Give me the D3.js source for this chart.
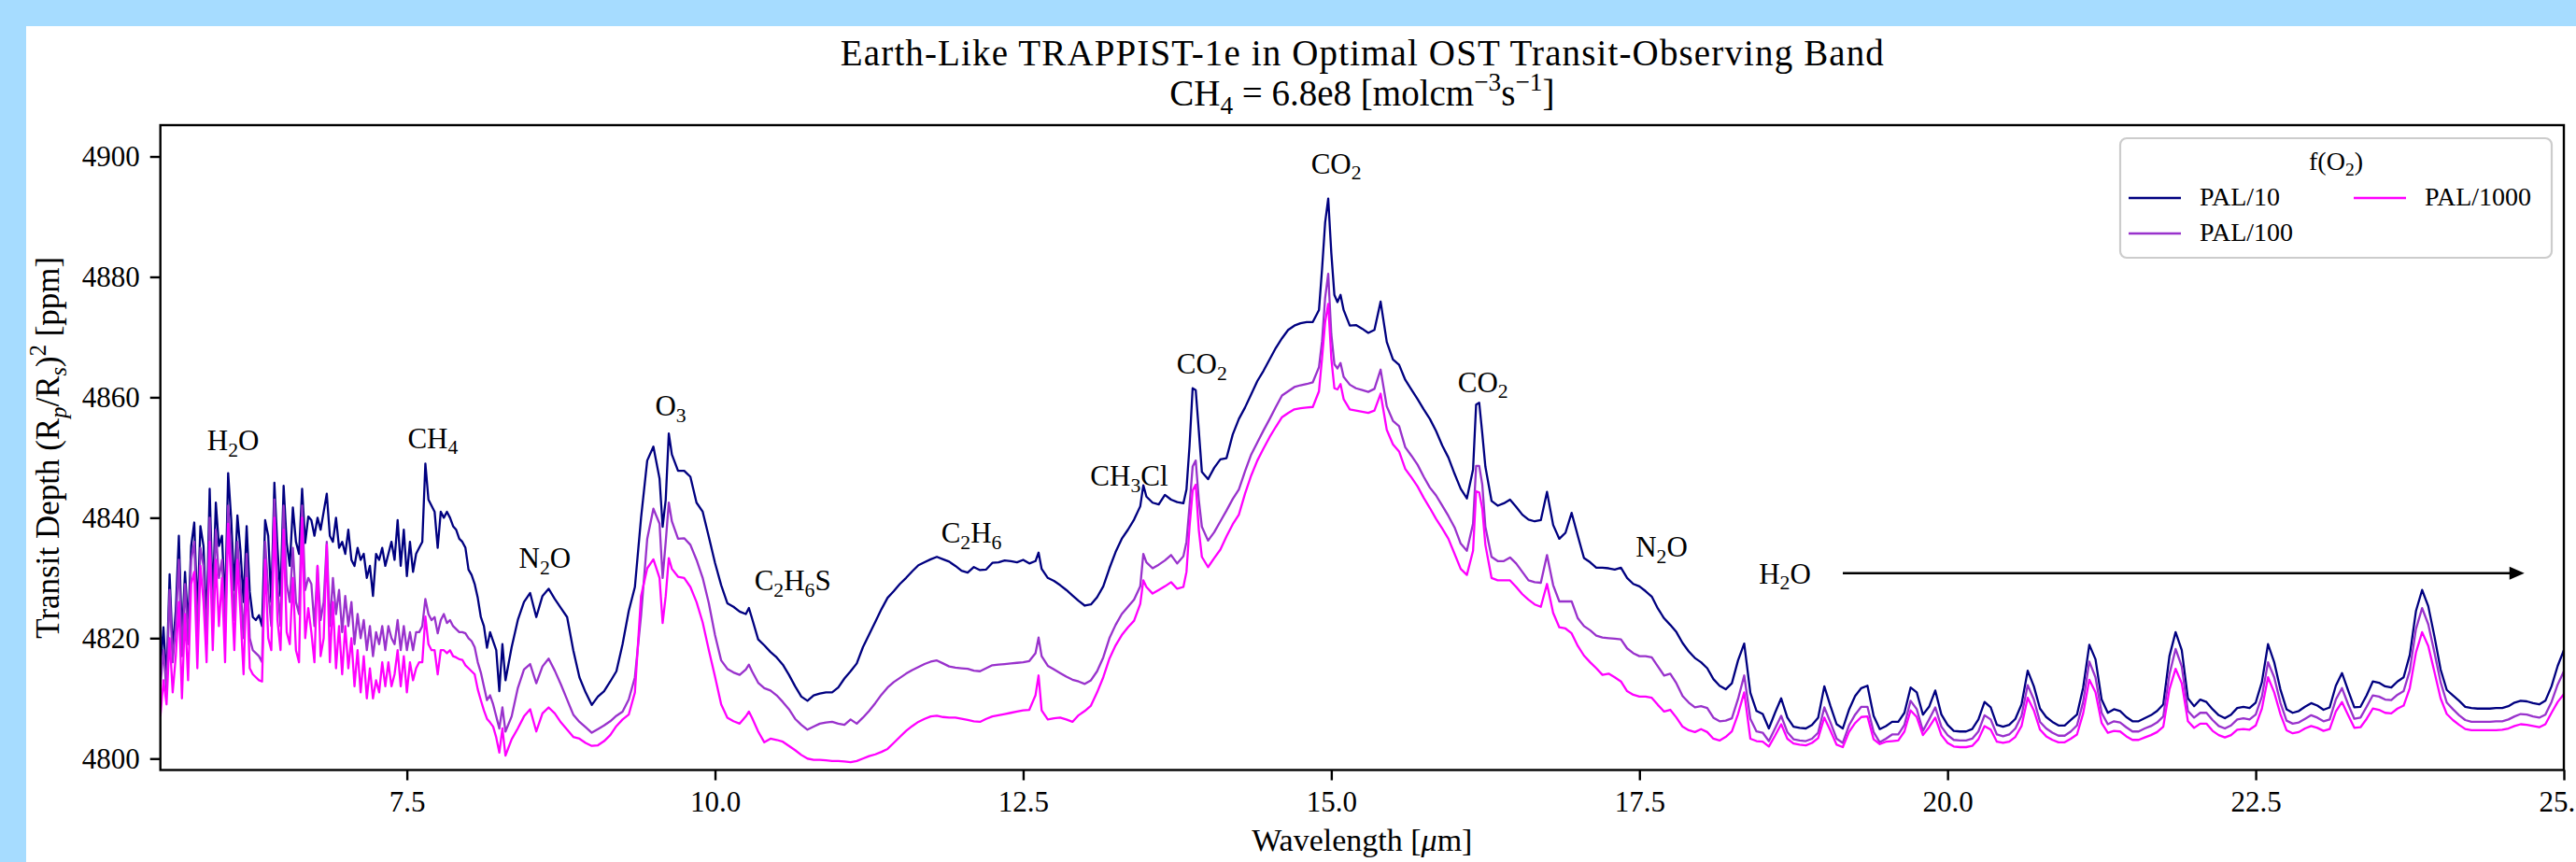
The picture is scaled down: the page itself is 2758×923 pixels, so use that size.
<html lang="en">
<head>
  <meta charset="UTF-8"/>
  <title>Earth-Like TRAPPIST-1e in Optimal OST Transit-Observing Band</title>
  <script src="https://d3js.org/d3.v7.min.js"></script>
</head>
<body>
  <svg id="chart"></svg>
</body>
<style>
body {
  margin: 0;
  background: #a6dcff;
  overflow: hidden;
}

svg {
  display: block;
}

text {
  font-family: 'Liberation Serif', 'Times New Roman', serif;
  fill: #000;
}

.series {
  fill: none;
  stroke-width: 2.3;
  stroke-linejoin: round;
}

.axis path {
  display: none;
}

.axis line {
  stroke: #000;
  stroke-width: 2.4;
}
</style>

<script>
// wavelength grid (um)
const wavelength = [
  5.5, 5.525, 5.55, 5.575, 5.6, 5.625, 5.65, 5.675, 5.7, 5.725,
  5.75, 5.775, 5.8, 5.825, 5.85, 5.875, 5.9, 5.925, 5.95, 5.975,
  6, 6.025, 6.05, 6.075, 6.1, 6.125, 6.15, 6.175, 6.2, 6.225,
  6.25, 6.275, 6.3, 6.325, 6.35, 6.375, 6.4, 6.425, 6.45, 6.475,
  6.5, 6.525, 6.55, 6.575, 6.6, 6.625, 6.65, 6.675, 6.7, 6.725,
  6.75, 6.775, 6.8, 6.825, 6.85, 6.875, 6.9, 6.925, 6.95, 6.975,
  7, 7.025, 7.05, 7.075, 7.1, 7.125, 7.15, 7.175, 7.2, 7.225,
  7.25, 7.275, 7.3, 7.325, 7.35, 7.375, 7.4, 7.425, 7.45, 7.475,
  7.5, 7.525, 7.55, 7.575, 7.6, 7.625, 7.65, 7.675, 7.7, 7.725,
  7.75, 7.775, 7.8, 7.825, 7.85, 7.875, 7.9, 7.925, 7.95, 7.975,
  8, 8.025, 8.05, 8.075, 8.1, 8.125, 8.15, 8.175, 8.2, 8.225,
  8.25, 8.275, 8.3,
  8.35, 8.4, 8.45, 8.5, 8.55, 8.6, 8.65, 8.7, 8.75, 8.8,
  8.85, 8.9, 8.95, 9, 9.05, 9.1, 9.15, 9.2, 9.25, 9.3,
  9.35, 9.4, 9.45, 9.5, 9.55, 9.575, 9.6, 9.625, 9.65, 9.7,
  9.75, 9.8, 9.85, 9.9, 9.95, 10, 10.05, 10.1, 10.15, 10.2,
  10.25, 10.275, 10.3, 10.35, 10.4, 10.45, 10.5, 10.55, 10.6, 10.65,
  10.7, 10.75, 10.8, 10.85, 10.9, 10.95, 11, 11.05, 11.1, 11.15,
  11.2, 11.25, 11.3, 11.35, 11.4, 11.45, 11.5, 11.55, 11.6, 11.65,
  11.7, 11.75, 11.8, 11.85, 11.9, 11.95, 12, 12.05, 12.1, 12.15,
  12.2, 12.25, 12.3, 12.35, 12.4, 12.45, 12.5, 12.55, 12.6, 12.625,
  12.65, 12.7, 12.75, 12.8, 12.85, 12.9, 12.95, 13, 13.05, 13.1,
  13.15, 13.2, 13.25, 13.3, 13.35, 13.4, 13.45, 13.475,
  13.5, 13.55, 13.6, 13.65, 13.7, 13.75, 13.8, 13.825, 13.85, 13.875,
  13.9, 13.925, 13.95, 14, 14.05, 14.1, 14.15, 14.2, 14.25, 14.3,
  14.35, 14.4, 14.45, 14.5, 14.55, 14.6, 14.65, 14.7, 14.75, 14.8,
  14.85, 14.9, 14.925, 14.95, 14.975, 15, 15.025, 15.05, 15.075, 15.1,
  15.15, 15.2, 15.25, 15.3, 15.35, 15.4, 15.45, 15.5, 15.55, 15.6,
  15.65, 15.7, 15.75, 15.8, 15.85, 15.9, 15.95, 16, 16.05, 16.1,
  16.15, 16.175, 16.2, 16.225, 16.25, 16.3, 16.35, 16.4, 16.45, 16.5,
  16.55, 16.6, 16.65, 16.7, 16.75, 16.8, 16.85, 16.9, 16.95, 17,
  17.05, 17.1, 17.15, 17.2, 17.25, 17.3, 17.35, 17.4, 17.45, 17.5,
  17.55, 17.6, 17.65, 17.7, 17.75, 17.8, 17.85, 17.9, 17.95, 18,
  18.05, 18.1, 18.15, 18.2, 18.25, 18.3, 18.35, 18.4, 18.45, 18.5,
  18.55, 18.6, 18.65, 18.7, 18.75, 18.8, 18.85, 18.9, 18.95, 19,
  19.05, 19.1, 19.15, 19.2, 19.25, 19.3, 19.35, 19.4, 19.45, 19.5,
  19.55, 19.6, 19.65, 19.7, 19.75, 19.8, 19.85, 19.9, 19.95, 20,
  20.05, 20.1, 20.15, 20.2, 20.25, 20.3, 20.35, 20.4, 20.45, 20.5,
  20.55, 20.6, 20.65, 20.7, 20.75, 20.8, 20.85, 20.9, 20.95, 21,
  21.05, 21.1, 21.15, 21.2, 21.25, 21.3, 21.35, 21.4, 21.45, 21.5,
  21.55, 21.6, 21.65, 21.7, 21.75, 21.8, 21.85, 21.9, 21.95, 22,
  22.05, 22.1, 22.15, 22.2, 22.25, 22.3, 22.35, 22.4, 22.45, 22.5,
  22.55, 22.6, 22.65, 22.7, 22.75, 22.8, 22.85, 22.9, 22.95, 23,
  23.05, 23.1, 23.15, 23.2, 23.25, 23.3, 23.35, 23.4, 23.45, 23.5,
  23.55, 23.6, 23.65, 23.7, 23.75, 23.8, 23.85, 23.9, 23.95, 24,
  24.05, 24.1, 24.15, 24.2, 24.25, 24.3, 24.35, 24.4, 24.45, 24.5,
  24.55, 24.6, 24.65, 24.7, 24.75, 24.8, 24.85, 24.9, 24.95, 25
];

// transit depth (ppm), f(O2) = PAL/10
const pal10 = [
  4815, 4821.8, 4813, 4830.6, 4818, 4824.6, 4837, 4820, 4831, 4822,
  4835.3, 4839.2, 4824, 4838.6, 4835.3, 4822, 4844.8, 4826, 4842.5, 4835.3,
  4837, 4825, 4847.4, 4839.6, 4828, 4840.4, 4834.5, 4826, 4838.6, 4827.7,
  4823.5, 4823, 4823.8, 4822, 4839.6, 4837, 4826, 4845.8, 4835, 4827,
  4845.3, 4835.8, 4832, 4841.7, 4836, 4834, 4844.8, 4835.8, 4840.2, 4839.6,
  4837, 4840, 4838, 4841, 4844, 4837, 4836, 4840, 4835, 4836,
  4834, 4838, 4833, 4832, 4835, 4833, 4834, 4830, 4832, 4827,
  4834, 4833, 4835, 4832, 4834, 4836, 4833, 4839.6, 4832, 4838,
  4830.3, 4836, 4831, 4834, 4835, 4836, 4849, 4843, 4842, 4841,
  4835, 4841, 4840, 4841, 4840, 4838.6, 4838, 4836.5, 4836, 4835,
  4831.4, 4830.5, 4829, 4826.7, 4823.5, 4822, 4818.4, 4821, 4819.5, 4818,
  4811.2, 4819, 4813,
  4818.5, 4823, 4826, 4827.5, 4823.5, 4827, 4828.2, 4826.5, 4825, 4823.5,
  4818, 4813.5, 4811, 4808.9, 4810.3, 4811.2, 4812.8, 4814.5, 4819, 4824.5,
  4828.5, 4840, 4849.5, 4851.8, 4846.5, 4838.5, 4843, 4854, 4850.5, 4847.8,
  4847.8, 4846.8, 4842.5, 4841, 4836.8, 4832.5, 4828.8, 4825.8, 4825.2, 4824.4,
  4824, 4825, 4823.3, 4819.8, 4818.8, 4817.7, 4816.8, 4815.6, 4813.9, 4812,
  4810.3, 4809.6, 4810.5, 4810.8, 4811, 4811, 4811.8, 4813.3, 4814.5, 4815.8,
  4818.5, 4820.6, 4822.7, 4824.8, 4826.7, 4827.8, 4829, 4830, 4831.1, 4832.1,
  4832.6, 4833.1, 4833.5, 4833.1, 4832.7, 4832, 4831.2, 4830.9, 4831.8, 4831.3,
  4831.4, 4832.5, 4832.6, 4832.9, 4832.8, 4832.6, 4833, 4832.4, 4832.8, 4834.2,
  4831.5, 4830, 4829.5, 4828.8, 4828, 4827.1, 4826.2, 4825.4, 4825.6, 4826.8,
  4828.6, 4831.6, 4834.3, 4836.5, 4838, 4839.7, 4841.9, 4845.4,
  4843.5, 4842.5, 4842.2, 4843.8, 4843, 4842.6, 4842.4, 4844.7, 4852, 4861.5,
  4861.2, 4854.5, 4847.6, 4846.4, 4848.3, 4849.7, 4849.9, 4853.8, 4856.4, 4858.3,
  4860.5, 4862.7, 4864.4, 4866.3, 4868.2, 4869.8, 4871.2, 4871.9, 4872.3, 4872.5,
  4872.5, 4874.5, 4881.3, 4889, 4893, 4884, 4877, 4875.8, 4877, 4874.5,
  4871.9, 4872, 4871.4, 4870.7, 4871.2, 4875.9, 4869.2, 4866.3, 4865.4, 4862.9,
  4861.3, 4859.7, 4858, 4856.4, 4854.4, 4852, 4850, 4847.3, 4844.8, 4843.2,
  4848, 4858.8, 4859.1, 4854, 4848.5, 4842.8, 4842, 4842.4, 4843, 4841.8,
  4840.5, 4839.7, 4839.4, 4839.6, 4844.3, 4838.8, 4836.5, 4837.5, 4840.8, 4837,
  4833.3, 4832.6, 4831.7, 4831.7, 4831.6, 4831.4, 4831.7, 4830, 4829, 4828.6,
  4827.8, 4826.9, 4824.9, 4823.3, 4822.2, 4821, 4819.2, 4817.8, 4816.7, 4816,
  4815, 4813.2, 4812.1, 4811.5, 4812.5, 4816.3, 4819.1, 4810.9, 4807.9, 4807.4,
  4805, 4807.6, 4810, 4806.8, 4805.3, 4805.1, 4805, 4805.6, 4806.8, 4812,
  4808.7, 4805.7, 4805, 4808.1, 4810.4, 4811.7, 4812.1, 4807.1, 4804.9, 4805.4,
  4806.1, 4806.1, 4807.6, 4811.8, 4811, 4807.3, 4808.6, 4811.3, 4807.3, 4805.6,
  4804.6, 4804.5, 4804.5, 4804.9, 4806.5, 4809.4, 4808.5, 4805.6, 4805.3, 4805.6,
  4806.6, 4809, 4814.6, 4812, 4808.3, 4806.9, 4806.1, 4805.5, 4805.5, 4806.4,
  4807.3, 4811.8, 4818.9, 4816.5, 4809.8, 4807.6, 4808.2, 4807.9, 4806.9, 4806.2,
  4806.2, 4806.7, 4807.2, 4807.9, 4809, 4817, 4821, 4818, 4810, 4808.7,
  4809.8, 4809.4, 4808.2, 4807.2, 4806.7, 4807.3, 4808.4, 4808.6, 4808.4, 4809.3,
  4812.7, 4819, 4816, 4811.5, 4808.2, 4807.6, 4807.9, 4808.6, 4809.2, 4808.8,
  4808.1, 4808.5, 4812.1, 4814.2, 4811.3, 4808.5, 4808.6, 4810.5, 4812.8, 4812.6,
  4812, 4811.8, 4812.8, 4813.5, 4817.2, 4824.5, 4828, 4825.3, 4820.3, 4814.8,
  4811.4, 4810.5, 4809.6, 4808.6, 4808.4, 4808.3, 4808.3, 4808.3, 4808.4, 4808.4,
  4808.7, 4809.3, 4809.6, 4809.5, 4809.2, 4809, 4809.6, 4812, 4815.4, 4818
];

// f(O2) = PAL/100
const pal100 = [
  4812, 4818, 4811, 4828, 4816, 4822, 4833, 4817, 4829, 4819,
  4833, 4836, 4820, 4835, 4832, 4819, 4840, 4822, 4838, 4830,
  4833, 4821, 4842, 4834, 4823, 4836, 4829, 4820, 4834, 4820,
  4818, 4817.5, 4817, 4816, 4836, 4828, 4822, 4843, 4829, 4822,
  4842, 4829, 4826, 4835, 4826, 4824, 4842, 4828, 4830, 4829,
  4822, 4832, 4823, 4826, 4836, 4822, 4830, 4824, 4828, 4821,
  4827, 4822, 4826, 4819, 4824, 4820, 4823, 4818, 4822, 4817,
  4821, 4819, 4822, 4818, 4822, 4820, 4819, 4823, 4818, 4822,
  4818, 4821, 4818, 4821, 4821, 4822, 4826.5, 4824, 4823, 4823.5,
  4820.8, 4823, 4824, 4822.5, 4823, 4822, 4821.5, 4821, 4821, 4820.8,
  4820, 4819.5, 4818.5, 4816, 4814.3, 4812, 4809.7, 4810.5, 4809, 4807,
  4805, 4808.5, 4804.5,
  4807, 4811.7, 4814.8, 4815.7, 4812.5, 4815.3, 4816.6, 4814.6, 4812.3, 4809.8,
  4807.3, 4806.1, 4805.2, 4804.3, 4804.9, 4805.5, 4806.2, 4807.1, 4807.8, 4809.8,
  4813.5, 4823.8, 4836.5, 4841.5, 4839, 4830, 4836, 4842.5, 4839.4, 4836.5,
  4836.6, 4835.5, 4833, 4830, 4825.8, 4820.5, 4816.3, 4814.9, 4814.3, 4813.9,
  4814.8, 4815.6, 4814.5, 4812.6, 4811.7, 4811.3, 4810.5, 4809.4, 4808.2, 4806.6,
  4805.6, 4804.8, 4805.3, 4805.8, 4806, 4806.1, 4805.8, 4805.6, 4806.5, 4805.8,
  4806.8, 4807.9, 4809.2, 4810.6, 4811.8, 4812.7, 4813.4, 4814.1, 4814.7, 4815.2,
  4815.7, 4816.1, 4816.3, 4815.8, 4815.3, 4815.1, 4815, 4814.9, 4814.6, 4814.5,
  4815, 4815.5, 4815.6, 4815.7, 4815.8, 4815.9, 4816, 4816.2, 4817.5, 4820.1,
  4817, 4815.4, 4814.8, 4814.2, 4813.6, 4813.1, 4812.8, 4812.4, 4813, 4814.5,
  4816.8, 4820, 4822.2, 4824, 4825.2, 4826.4, 4828.6, 4834,
  4832.6, 4831.6, 4832.2, 4832.9, 4833.8, 4832.4, 4833.6, 4836, 4842, 4848.5,
  4849.5, 4843, 4838.5, 4836.2, 4837.6, 4839.4, 4841.2, 4843.1, 4844.7, 4847.7,
  4850.5, 4852.5, 4854.5, 4856.4, 4858.4, 4860.3, 4861, 4861.7, 4862, 4862.2,
  4862.5, 4865, 4869.3, 4876.5, 4880.5, 4870.5, 4865.5, 4864.8, 4865.7, 4863.4,
  4862.1, 4861.5, 4861.2, 4860.9, 4861.4, 4864.6, 4858.5, 4856.1, 4855.2, 4851.7,
  4850.3, 4848.8, 4846.8, 4845, 4843.7, 4842, 4840.3, 4838.4, 4835.7, 4834.5,
  4839, 4848.6, 4848.6, 4845.5, 4838.5, 4833.5, 4832.8, 4832.8, 4833.4, 4832.4,
  4831, 4829.6, 4829.3, 4829.2, 4833.8, 4828.8, 4826.1, 4826.1, 4826.1, 4823.3,
  4822, 4821.3, 4820.4, 4820.1, 4820, 4819.9, 4819.8, 4818.3, 4817.5, 4817,
  4817, 4816.8, 4815.3, 4813.8, 4814.1, 4812.5, 4810.4, 4809.3, 4808.5, 4808.7,
  4808.4, 4806.8, 4806.2, 4806.3, 4806.7, 4809.9, 4813.8, 4806.6, 4804.5, 4804.3,
  4802.9, 4805, 4807.1, 4804.4, 4803.2, 4803, 4802.9, 4803.3, 4804.3, 4808.5,
  4806, 4803.3, 4802.6, 4805.5, 4807.3, 4808.6, 4808.6, 4804.4, 4802.7, 4803.3,
  4804, 4804, 4805.6, 4809.6, 4808.2, 4804.6, 4806.5, 4808.5, 4805.3, 4803.9,
  4803.1, 4803, 4803, 4803.3, 4804.5, 4807.2, 4806.5, 4804, 4803.7, 4804,
  4805, 4807.1, 4812.2, 4809.8, 4806.1, 4805, 4804.3, 4803.8, 4803.8, 4804.5,
  4805.5, 4809.4, 4816.1, 4813.5, 4807.6, 4805.7, 4806.2, 4806, 4805.2, 4804.5,
  4804.5, 4805, 4805.4, 4806, 4807, 4814, 4818.2, 4815.3, 4807.9, 4806.8,
  4807.6, 4807.6, 4806.4, 4805.4, 4805, 4805.5, 4806.5, 4806.7, 4806.5, 4807.3,
  4810.3, 4816, 4813.5, 4809.3, 4806.3, 4805.8, 4806, 4806.6, 4807.2, 4806.8,
  4806.2, 4806.5, 4809.8, 4811.7, 4809, 4806.6, 4806.8, 4808.6, 4810.5, 4810.3,
  4809.8, 4809.7, 4810.6, 4811.2, 4814.6, 4821.5, 4825, 4822.3, 4817.6, 4812.7,
  4809.3, 4808.2, 4807.2, 4806.4, 4806.1, 4806.1, 4806.1, 4806.1, 4806.2, 4806.2,
  4806.5, 4807, 4807.4, 4807.3, 4807, 4806.8, 4807.3, 4809.4, 4812.3, 4814.5
];

// f(O2) = PAL/1000
const pal1000 = [
  4807, 4813, 4809, 4820, 4811, 4817, 4826, 4810, 4824, 4813,
  4829, 4831, 4815, 4832, 4826, 4816, 4836, 4818, 4833, 4822,
  4830, 4816, 4839, 4829, 4818, 4833, 4824, 4814, 4830, 4815,
  4814, 4813.5, 4813, 4812.8, 4833, 4820, 4818, 4840, 4823, 4818,
  4838, 4821, 4819, 4830, 4818, 4816, 4840, 4820, 4825, 4821,
  4816, 4832, 4817, 4820, 4835.5, 4816, 4826, 4815, 4822, 4814,
  4822, 4815, 4820, 4812, 4818, 4811, 4817, 4810, 4815, 4810,
  4813, 4811, 4816, 4812, 4816, 4812, 4814, 4818, 4812, 4817,
  4811, 4816, 4813, 4815, 4816, 4816, 4823.6, 4819, 4818, 4818,
  4814, 4818, 4818, 4817.5, 4818, 4817, 4816.8, 4816.5, 4816.4, 4815.5,
  4815, 4814.5, 4814, 4811.5, 4809.7, 4808, 4806.6, 4806, 4805.3, 4803.5,
  4801, 4805, 4800.5,
  4803.2, 4805, 4807, 4808.2, 4804.5, 4807.5, 4808.5, 4807.5, 4806, 4804.8,
  4803.6, 4803.3, 4802.6, 4802.1, 4802.2, 4802.9, 4803.9, 4805.4, 4806.5, 4807.3,
  4811, 4827, 4831.6, 4833.1, 4830, 4822.5, 4827, 4833.3, 4831.5, 4830.2,
  4830, 4828.5, 4826, 4822.6, 4818, 4813.6, 4809, 4806.8, 4806.2, 4805.8,
  4807, 4807.8, 4806.8, 4804.5, 4802.7, 4803.3, 4803.1, 4802.8, 4802.1, 4801.4,
  4800.6, 4800, 4799.8, 4799.8, 4799.7, 4799.6, 4799.6, 4799.5, 4799.4, 4799.6,
  4800, 4800.4, 4800.7, 4801.1, 4801.6, 4802.6, 4803.6, 4804.6, 4805.4, 4806.1,
  4806.6, 4807, 4807.1, 4806.9, 4806.8, 4806.8, 4806.6, 4806.4, 4806.2, 4806.1,
  4806.6, 4807, 4807.2, 4807.4, 4807.6, 4807.8, 4808, 4808.1, 4810.5, 4813.8,
  4808, 4806.5, 4806.7, 4806.8, 4806.5, 4806.1, 4807.2, 4807.9, 4808.8, 4811,
  4813.5, 4816.6, 4818.8, 4820.5, 4821.8, 4822.9, 4825.7, 4829.6,
  4828.5, 4827.4, 4828, 4828.6, 4829.3, 4828.2, 4828.5, 4831, 4838.5, 4844.5,
  4845.5, 4838, 4833.5, 4831.8, 4833.3, 4834.7, 4836.9, 4838.9, 4840.5, 4844,
  4847, 4849.5, 4851.5, 4853.4, 4855.1, 4856.7, 4857.4, 4858, 4858.2, 4858.3,
  4858.4, 4861, 4866.5, 4872.5, 4875.5, 4866.5, 4861.5, 4861.3, 4862.2, 4859.7,
  4858, 4857.8, 4857.6, 4857.4, 4857.8, 4860.6, 4854.6, 4852.2, 4851, 4848.1,
  4846.7, 4845.2, 4843.3, 4841.6, 4839.8, 4838.2, 4836.5, 4834, 4831.5, 4830.5,
  4834.5, 4844.4, 4844.2, 4841.5, 4835.5, 4830, 4829.6, 4829.6, 4829.6, 4828.5,
  4827.3, 4826.4, 4825.6, 4825.2, 4829, 4824.2, 4821.8, 4821.6, 4820.8, 4818.7,
  4817.1, 4816, 4815, 4813.9, 4814.1, 4813.5, 4812.8, 4811.2, 4810.6, 4810.3,
  4810.3, 4810.1, 4808.9, 4807.8, 4808.1, 4806.8, 4805.3, 4804.7, 4804.4, 4804.9,
  4804.4, 4803.3, 4803, 4803.6, 4804.5, 4807.4, 4811, 4803.3, 4802.9, 4802.8,
  4802, 4803.8, 4805.7, 4803.3, 4802.5, 4802.3, 4802.2, 4802.6, 4803.4, 4806.8,
  4804.6, 4802.3, 4801.9, 4804.4, 4805.9, 4806.9, 4807, 4803.2, 4802.4, 4802.8,
  4802.9, 4803, 4804.5, 4808, 4806.9, 4803.9, 4805.2, 4806.8, 4803.9, 4802.6,
  4802, 4801.9, 4801.9, 4802.1, 4803.2, 4805.4, 4804.8, 4802.8, 4802.6, 4802.8,
  4803.6, 4805.4, 4810.1, 4808, 4804.8, 4803.7, 4803.1, 4802.7, 4802.7, 4803.3,
  4804, 4807.5, 4813.1, 4811, 4805.9, 4804.3, 4804.6, 4804.5, 4803.7, 4803.1,
  4803.1, 4803.5, 4803.9, 4804.4, 4805.3, 4811.5, 4814.9, 4812.5, 4806.2, 4805.1,
  4805.8, 4805.8, 4804.6, 4803.9, 4803.5, 4803.9, 4804.8, 4804.9, 4804.8, 4805.5,
  4808.3, 4813.5, 4811, 4807.4, 4804.7, 4804.2, 4804.4, 4805, 4805.4, 4805.1,
  4804.6, 4804.9, 4807.8, 4809.4, 4807.2, 4805.1, 4805.2, 4806.6, 4808.3, 4808.1,
  4807.6, 4807.5, 4808.3, 4808.8, 4811.7, 4817.6, 4821, 4818.7, 4814.4, 4810,
  4807.4, 4806.4, 4805.6, 4804.9, 4804.7, 4804.7, 4804.7, 4804.7, 4804.7, 4804.8,
  4805, 4805.4, 4805.7, 4805.6, 4805.4, 4805.2, 4805.7, 4807.6, 4809.4, 4810.7
];

const seriesNames = ['PAL/10', 'PAL/100', 'PAL/1000'];
const seriesColors = ['#000080', '#9932cc', '#ff00ff'];

const xTicks = [7.5, 10, 12.5, 15, 17.5, 20, 22.5, 25];
const yTicks = [4800, 4820, 4840, 4860, 4880, 4900];

// molecule labels: text, wavelength, depth of the baseline
const bandNames = ['H_{2}O', 'CH_{4}', 'N_{2}O', 'O_{3}', 'C_{2}H_{6}S', 'C_{2}H_{6}', 'CH_{3}Cl',
                   'CO_{2}', 'CO_{2}', 'CO_{2}', 'N_{2}O', 'H_{2}O'];
const bandX = [6.09, 7.71, 8.62, 9.64, 10.63, 12.08, 13.36, 13.95, 15.04, 16.23, 17.68, 18.68];
const bandY = [4851.2, 4851.6, 4831.7, 4857, 4828, 4835.9, 4845.3, 4863.9, 4897.2, 4860.9, 4833.5, 4829.1];
const arrowStart = [19.15, 4830.8];
const arrowEnd = [24.68, 4830.8];

const W = 2758, H = 923;
const plot = {left: 171.7, right: 2745, top: 134, bottom: 824.5};

const svg = d3.select('#chart').attr('width', W).attr('height', H);

// figure face (the blue strip on top/left stays visible)
svg.append('rect')
  .attr('x', 28).attr('y', 28)
  .attr('width', W - 28).attr('height', H - 28)
  .attr('fill', '#fff');

const x = d3.scaleLinear().domain([5.5, 25]).range([plot.left, plot.right]);
const y = d3.scaleLinear().domain([4798.1, 4905.2]).range([plot.bottom, plot.top]);

// text with _{sub}, ^{sup} and $italic$ pieces
function richText(sel, str, size) {
  const parts = str.split(/(_\{[^}]*\}|\^\{[^}]*\}|\$[^$]*\$)/).filter(s => s.length);
  let shift = 0;
  parts.forEach(p => {
    let kind = 'n', txt = p;
    if (p.startsWith('_{')) { kind = 'sub'; txt = p.slice(2, -1); }
    else if (p.startsWith('^{')) { kind = 'sup'; txt = p.slice(2, -1); }
    else if (p.startsWith('$')) { kind = 'it'; txt = p.slice(1, -1); }
    const off = kind === 'sub' ? size * 0.22 : kind === 'sup' ? -size * 0.4 : 0;
    const t = sel.append('tspan').attr('dy', off - shift).text(txt);
    shift = off;
    if (kind === 'sub' || kind === 'sup') t.attr('font-size', size * 0.7);
    if (kind === 'it' || (kind === 'sub' && /^[a-z]$/.test(txt))) t.attr('font-style', 'italic');
  });
}

svg.append('clipPath').attr('id', 'clip')
  .append('rect')
  .attr('x', plot.left).attr('y', plot.top)
  .attr('width', plot.right - plot.left).attr('height', plot.bottom - plot.top);

const series = [pal10, pal100, pal1000];
const n = d3.min([wavelength.length, pal10.length, pal100.length, pal1000.length]);

const line = d3.line()
  .x(i => x(wavelength[i]));

series.forEach((vals, k) => {
  svg.append('path')
    .datum(d3.range(n))
    .attr('class', 'series')
    .attr('clip-path', 'url(#clip)')
    .attr('stroke', seriesColors[k])
    .attr('d', line.y(i => y(vals[i])));
});

// axes
const xAxis = svg.append('g')
  .attr('class', 'axis')
  .attr('transform', `translate(0, ${plot.bottom})`)
  .call(d3.axisBottom(x).tickValues(xTicks).tickFormat(d3.format('.1f'))
    .tickSizeInner(11).tickSizeOuter(0).tickPadding(11));

const yAxis = svg.append('g')
  .attr('class', 'axis')
  .attr('transform', `translate(${plot.left}, 0)`)
  .call(d3.axisLeft(y).tickValues(yTicks).tickFormat(d3.format('d'))
    .tickSizeInner(11).tickSizeOuter(0).tickPadding(11));

svg.selectAll('.axis').attr('font-family', null).attr('font-size', null);
svg.selectAll('.axis text').attr('font-size', 31);

svg.append('rect')
  .attr('x', plot.left).attr('y', plot.top)
  .attr('width', plot.right - plot.left).attr('height', plot.bottom - plot.top)
  .attr('fill', 'none')
  .attr('stroke', '#000')
  .attr('stroke-width', 2.4);

// molecule labels
bandNames.forEach((name, i) => {
  const t = svg.append('text')
    .attr('x', x(bandX[i]))
    .attr('y', y(bandY[i]))
    .attr('text-anchor', 'middle')
    .attr('font-size', 31);
  richText(t, name, 31);
});

// arrow under the far-IR H2O label
const ax0 = x(arrowStart[0]), ax1 = x(arrowEnd[0]), ay = y(arrowStart[1]);
svg.append('line')
  .attr('x1', ax0).attr('x2', ax1 - 14)
  .attr('y1', ay).attr('y2', ay)
  .attr('stroke', '#000').attr('stroke-width', 2.4);
svg.append('path')
  .attr('d', `M${ax1},${ay} L${ax1 - 16},${ay - 7} L${ax1 - 16},${ay + 7} Z`)
  .attr('fill', '#000');

// titles
svg.append('text')
  .attr('x', (plot.left + plot.right) / 2)
  .attr('y', 70)
  .attr('text-anchor', 'middle')
  .attr('font-size', 39)
  .attr('textLength', 1117)
  .attr('lengthAdjust', 'spacing')
  .text('Earth-Like TRAPPIST-1e in Optimal OST Transit-Observing Band');

const sub = svg.append('text')
  .attr('x', (plot.left + plot.right) / 2)
  .attr('y', 113)
  .attr('text-anchor', 'middle')
  .attr('font-size', 39);
richText(sub, 'CH_{4} = 6.8e8 [molcm^{\u22123}s^{\u22121}]', 39);

const xl = svg.append('text')
  .attr('x', (plot.left + plot.right) / 2)
  .attr('y', 911)
  .attr('text-anchor', 'middle')
  .attr('font-size', 34);
richText(xl, 'Wavelength [$\u03bc$m]', 34);

const yl = svg.append('text')
  .attr('transform', `translate(63, ${(plot.top + plot.bottom) / 2}) rotate(-90)`)
  .attr('text-anchor', 'middle')
  .attr('font-size', 35);
richText(yl, 'Transit Depth (R_{p}/R_{s})^{2} [ppm]', 35);

// legend
const legend = svg.append('g').attr('transform', 'translate(2270, 148)');
legend.append('rect')
  .attr('width', 462).attr('height', 128)
  .attr('rx', 7)
  .attr('fill', '#fff').attr('fill-opacity', 0.8)
  .attr('stroke', '#cccccc').attr('stroke-width', 2.2);

const lt = legend.append('text')
  .attr('x', 231).attr('y', 34)
  .attr('text-anchor', 'middle')
  .attr('font-size', 28);
richText(lt, 'f(O_{2})', 28);

const slots = [[9, 72], [9, 110], [250, 72]];
seriesNames.forEach((name, k) => {
  const [lx, ly] = slots[k];
  legend.append('line')
    .attr('x1', lx).attr('x2', lx + 56)
    .attr('y1', ly - 8).attr('y2', ly - 8)
    .attr('stroke', seriesColors[k]).attr('stroke-width', 2.3);
  legend.append('text')
    .attr('x', lx + 76).attr('y', ly)
    .attr('font-size', 28)
    .text(name);
});
</script>
</html>
